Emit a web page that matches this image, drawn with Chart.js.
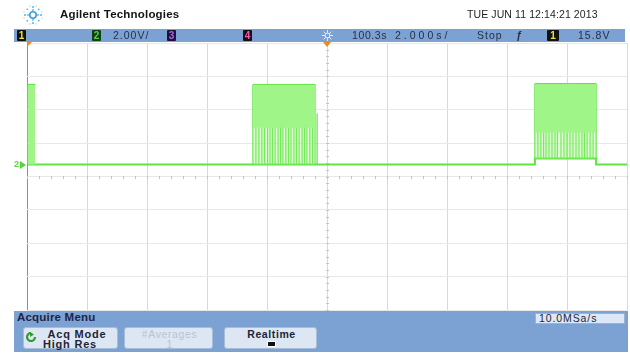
<!DOCTYPE html>
<html>
<head>
<meta charset="utf-8">
<script src="https://cdn.jsdelivr.net/npm/chart.js@4/dist/chart.umd.min.js"></script>
<style>
  html, body { margin: 0; padding: 0; background: #fff; width: 630px; height: 354px; overflow: hidden;
    font-family: "Liberation Sans", Arial, sans-serif; }
  #wrap { position: relative; width: 630px; height: 354px; }
  #scope { position: absolute; left: 0; top: 0; }
  .abs { position: absolute; white-space: nowrap; }
  .bar { background: #7ca1d3; }
  .bartxt { font-size: 10.5px; color: #25304a; top: 29px; line-height: 13px; letter-spacing: 1px; }
  .chbox { top: 30px; width: 9px; height: 11px; background: #111; font-size: 10px; font-weight: bold;
    line-height: 11px; text-align: center; border-radius: 1px; }
  .key { top: 327px; height: 22px; background: #dde7f3; border: 1px solid #a9bcd6; border-radius: 3px;
    box-sizing: border-box; font-size: 10.5px; font-weight: bold; color: #1d2436; text-align: center; line-height: 10px; }
</style>
</head>
<body>
<div id="wrap">
  <canvas id="scope" width="630" height="354"></canvas>

  <!-- header -->
  <svg class="abs" style="left:22px;top:4px" width="22" height="22" viewBox="0 0 22 22">
    <g fill="#5ab3e6">
      <circle cx="11" cy="11" r="3.2" fill="none" stroke="#3d9fdc" stroke-width="1.6"/>
      <circle cx="11" cy="3" r="1"/><circle cx="11" cy="19" r="1"/>
      <circle cx="3" cy="11" r="1"/><circle cx="19" cy="11" r="1"/>
      <circle cx="5.3" cy="5.3" r="0.9"/><circle cx="16.7" cy="5.3" r="0.9"/>
      <circle cx="5.3" cy="16.7" r="0.9"/><circle cx="16.7" cy="16.7" r="0.9"/>
      <circle cx="11" cy="6" r="0.9"/><circle cx="11" cy="16" r="0.9"/>
      <circle cx="6" cy="11" r="0.9"/><circle cx="16" cy="11" r="0.9"/>
    </g>
    <g fill="#a9d8f3">
      <circle cx="8" cy="2" r="0.7"/><circle cx="14" cy="2" r="0.7"/>
      <circle cx="8" cy="20" r="0.7"/><circle cx="14" cy="20" r="0.7"/>
      <circle cx="2" cy="8" r="0.7"/><circle cx="2" cy="14" r="0.7"/>
      <circle cx="20" cy="8" r="0.7"/><circle cx="20" cy="14" r="0.7"/>
    </g>
  </svg>
  <div class="abs" style="left:60px;top:8px;font-size:11.5px;font-weight:bold;color:#141414;letter-spacing:0.2px">Agilent Technologies</div>
  <div class="abs" style="left:467px;top:8px;font-size:10.5px;color:#1e1e1e;letter-spacing:0.1px">TUE JUN 11 12:14:21 2013</div>

  <!-- top status bar -->
  <div class="abs bar" style="left:14px;top:29px;width:611px;height:13px"></div>
  <div class="abs chbox" style="left:17px;color:#f2e23a">1</div>
  <div class="abs chbox" style="left:92px;color:#52d24a;background:#153d16">2</div>
  <div class="abs bartxt" style="left:113px">2.00V/</div>
  <div class="abs chbox" style="left:167px;color:#b060e0;background:#201040">3</div>
  <div class="abs chbox" style="left:243px;color:#f05ab0">4</div>
  <svg class="abs" style="left:321px;top:29px" width="13" height="13" viewBox="0 0 13 13">
    <g stroke="#e6eefa" stroke-width="1">
      <line x1="6.5" y1="1" x2="6.5" y2="12"/><line x1="1" y1="6.5" x2="12" y2="6.5"/>
      <line x1="2.6" y1="2.6" x2="10.4" y2="10.4"/><line x1="10.4" y1="2.6" x2="2.6" y2="10.4"/>
    </g>
    <circle cx="6.5" cy="6.5" r="2.4" fill="#7ca1d3" stroke="#e6eefa" stroke-width="1"/>
  </svg>
  <div class="abs bartxt" style="left:352px;letter-spacing:0.6px">100.3s</div>
  <div class="abs bartxt" style="left:395px;letter-spacing:3px">2.000s/</div>
  <div class="abs bartxt" style="left:477px">Stop</div>
  <div class="abs bartxt" style="left:516px;font-style:italic;font-weight:bold">ƒ</div>
  <div class="abs chbox" style="left:547px;width:12px;color:#f2e23a">1</div>
  <div class="abs bartxt" style="left:578px">15.8V</div>

  <!-- trigger / delay position markers -->
  <svg class="abs" style="left:24px;top:42px" width="8" height="6"><polygon points="3,0 8,0 3,5" fill="#f08a24"/></svg>
  <svg class="abs" style="left:323px;top:42px" width="9" height="6"><polygon points="0,0 8,0 4,5" fill="#f08a24"/></svg>

  <!-- channel 2 ground reference -->
  <div class="abs" style="left:14px;top:159px;font-size:9px;font-weight:bold;color:#55d43c">2</div>
  <svg class="abs" style="left:20px;top:161px" width="7" height="8"><polygon points="0,0 6,4 0,8" fill="#55d43c"/></svg>

  <!-- bottom menu -->
  <div class="abs bar" style="left:14px;top:311px;width:614px;height:41px"></div>
  <div class="abs" style="left:17px;top:311px;font-size:11.5px;font-weight:bold;color:#1c2544;letter-spacing:0.2px">Acquire Menu</div>
  <div class="abs" style="left:535px;top:313px;width:90px;height:11px;background:#dce8f8;border:1px solid #9fb2cc;box-sizing:border-box"></div>
  <div class="abs" style="left:539px;top:312px;font-size:10.5px;color:#1d2436;letter-spacing:0.9px;line-height:12px">10.0MSa/s</div>

  <div class="abs key" style="left:23px;width:95px">
    <svg class="abs" style="left:2px;top:4px" width="11" height="10" viewBox="0 0 11 10">
      <path d="M9 5 A4 4 0 1 1 5 1" fill="none" stroke="#2c9a2c" stroke-width="2.2"/>
      <polygon points="4,0 8,2.5 4,5" fill="#2c9a2c"/>
    </svg>
    <div class="abs" style="left:13px;top:1px;width:80px;letter-spacing:0.8px;font-size:11px">Acq Mode</div>
    <div class="abs" style="left:6px;top:11px;width:80px;letter-spacing:0.8px;font-size:11px">High Res</div>
  </div>
  <div class="abs key" style="left:124px;width:89px;color:#b9c3cf;font-weight:normal">
    <div class="abs" style="left:0;top:1px;width:89px;letter-spacing:0.6px">#Averages</div>
    <div class="abs" style="left:0;top:11px;width:89px">1</div>
  </div>
  <div class="abs key" style="left:224px;width:93px">
    <div class="abs" style="left:0;top:1px;width:93px;letter-spacing:0.6px">Realtime</div>
    <div class="abs" style="left:42px;top:13px;width:9px;height:6px;background:#111;border:1px solid #fff;box-sizing:border-box"></div>
  </div>
</div>

<script>
// Scope settings (as shown in the status bar)
const SEC_PER_DIV = 2;        // horizontal scale
const VOLTS_PER_DIV = 2;      // channel 2 vertical scale
const GROUND_DIV = 0.36;      // channel 2 ground marker, divisions above centre
const H_DIVS = 10;
const V_DIVS = 8;

// Idle level of the trace between bursts (time s, volts)
const baseT = [0.03, 16.93, 16.93, 18.97, 18.97, 20];
const baseV = [0,    0,     0.36,  0.36,  0,     0];

// Burst envelopes: start/end time, top level, lower edge of the dense band, floor
const burstStart = [0.03, 7.53, 16.93];
const burstEnd   = [0.27, 9.60, 18.97];
const burstHigh  = [4.80, 4.80, 4.85];
const burstMid   = [0.00, 2.20, 1.90];
const burstFloor = [0.00, 0.00, 0.36];

// Individual pulse edges inside each burst (time s)
const pulses1 = [0.03, 0.13, 0.23];
const pulses2 = [7.53, 7.63, 7.73, 7.83, 7.92, 8.02, 8.10, 8.18, 8.27, 8.37, 8.45, 8.53,
                 8.63, 8.72, 8.80, 8.90, 8.98, 9.07, 9.17, 9.25, 9.33, 9.43, 9.52, 9.60];
const pulses3 = [16.93, 17.03, 17.13, 17.22, 17.30, 17.40, 17.50, 17.60, 17.68, 17.80, 17.90,
                 18.00, 18.10, 18.20, 18.30, 18.40, 18.50, 18.58, 18.67, 18.77, 18.87, 18.97];
const pulseSets = [pulses1, pulses2, pulses3];

// Trailing short pulse after the second burst
const tailT = [9.67];
const tailV = [3.05];

const TRACE = 'rgb(96,228,66)';
const BAND = 'rgb(160,245,136)';
const BAND_LOW = 'rgba(160,245,136,0.35)';

const toDiv = v => v / VOLTS_PER_DIV + GROUND_DIV;
const seg = (t0, t1, v) => [{x: t0, y: toDiv(v)}, {x: t1, y: toDiv(v)}];

const datasets = [];

burstStart.forEach((t0, i) => {
  const t1 = burstEnd[i];
  // dense upper band
  datasets.push({data: seg(t0, t1, burstHigh[i]), borderColor: TRACE, borderWidth: 1,
    backgroundColor: BAND, fill: '+1'});
  datasets.push({data: seg(t0, t1, burstMid[i]), borderWidth: 0, borderColor: 'rgba(0,0,0,0)',
    backgroundColor: BAND_LOW, fill: '+1'});
  datasets.push({data: seg(t0, t1, burstFloor[i]), borderWidth: 0, borderColor: 'rgba(0,0,0,0)', fill: false});
});

// vertical pulse lines
pulseSets.forEach((set, i) => {
  const pts = [];
  set.forEach(t => {
    pts.push({x: t, y: toDiv(burstFloor[i])}, {x: t, y: toDiv(burstHigh[i])}, {x: t, y: null});
  });
  datasets.push({data: pts, borderColor: TRACE, borderWidth: 1.2, fill: false, spanGaps: false});
});

// short trailing pulse
const tailPts = [];
tailT.forEach((t, i) => tailPts.push({x: t, y: toDiv(0)}, {x: t, y: toDiv(tailV[i])}, {x: t, y: null}));
datasets.push({data: tailPts, borderColor: TRACE, borderWidth: 1.2, fill: false, spanGaps: false});

// idle trace
datasets.push({data: baseT.map((t, i) => ({x: t, y: toDiv(baseV[i])})), borderColor: TRACE,
  borderWidth: 2, fill: false});

// minor tick marks along the centre graticule lines
const centreTicks = {
  id: 'centreTicks',
  beforeDatasetsDraw(chart) {
    const {ctx, scales: {x, y}} = chart;
    const yc = Math.round(y.getPixelForValue(0)) + 0.5;
    const xc = Math.round(x.getPixelForValue(H_DIVS * SEC_PER_DIV / 2)) + 0.5;
    ctx.save();
    ctx.strokeStyle = '#c4c4c4';
    ctx.lineWidth = 1;
    ctx.beginPath();
    for (let d = 0; d <= H_DIVS * 5; d++) {
      const px = Math.round(x.getPixelForValue(d * SEC_PER_DIV / 5)) + 0.5;
      ctx.moveTo(px, yc - 1.5); ctx.lineTo(px, yc + 1.5);
    }
    for (let d = 0; d <= V_DIVS * 5; d++) {
      const py = Math.round(y.getPixelForValue(-V_DIVS / 2 + d / 5)) + 0.5;
      ctx.moveTo(xc - 1.5, py); ctx.lineTo(xc + 1.5, py);
    }
    ctx.stroke();
    ctx.restore();
  }
};

new Chart(document.getElementById('scope'), {
  type: 'line',
  data: {datasets},
  plugins: [centreTicks],
  options: {
    responsive: false,
    animation: false,
    events: [],
    layout: {padding: {left: 27, right: 3, top: 43, bottom: 44}},
    plugins: {legend: {display: false}, tooltip: {enabled: false}},
    elements: {point: {radius: 0}, line: {tension: 0}},
    scales: {
      x: {
        type: 'linear', min: 0, max: H_DIVS * SEC_PER_DIV,
        ticks: {display: false, stepSize: SEC_PER_DIV},
        grid: {drawTicks: false, lineWidth: 1,
          color: c => (c.tick && c.tick.value === 0) ? '#8f8f8f' : '#d9d9d9'},
        border: {display: false}
      },
      y: {
        type: 'linear', min: -V_DIVS / 2, max: V_DIVS / 2,
        ticks: {display: false, stepSize: 1},
        grid: {drawTicks: false, lineWidth: 1, color: '#e8e8e8'},
        border: {display: false}
      }
    }
  }
});
</script>
</body>
</html>
